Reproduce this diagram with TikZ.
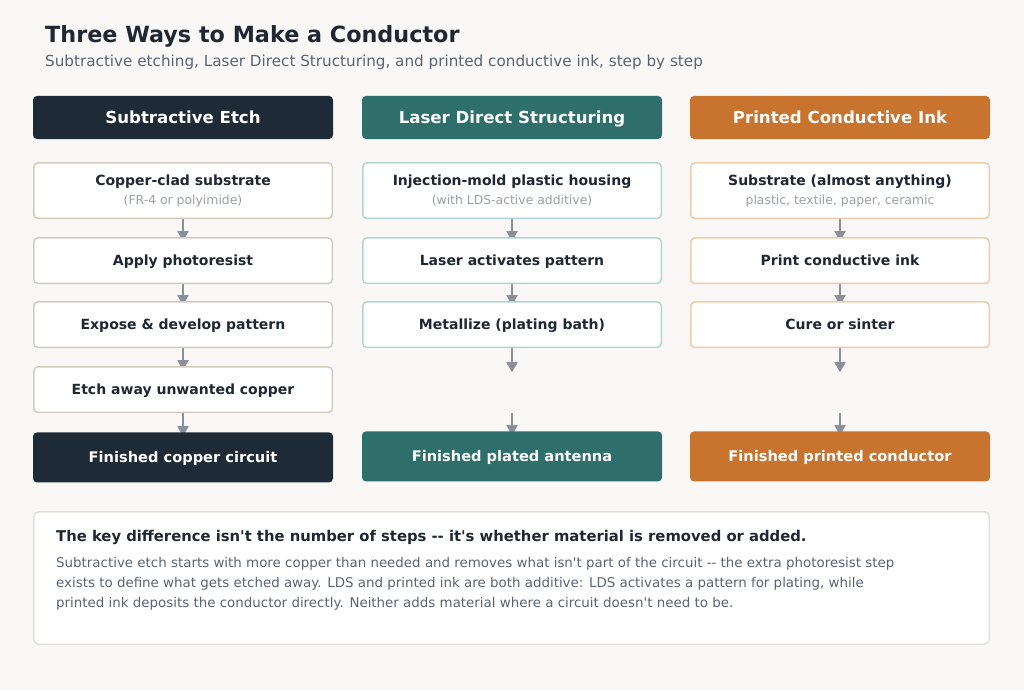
\documentclass[tikz,border=0pt]{standalone}
\usepackage{fontspec}
\setmainfont{DejaVu Sans}[Ligatures=TeXOff]
\usetikzlibrary{positioning,arrows.meta}

\definecolor{pagecol}{HTML}{F9F8F6}
\definecolor{inkcol}{HTML}{1F2733}
\definecolor{greycol}{HTML}{5A6474}
\definecolor{notecol}{HTML}{9AA0A8}
\definecolor{etchcol}{HTML}{1F2A37}
\definecolor{ldscol}{HTML}{2E6E6B}
\definecolor{printcol}{HTML}{C8732E}
\definecolor{etchline}{HTML}{D3CCBD}
\definecolor{ldsline}{HTML}{B3D3D3}
\definecolor{printline}{HTML}{F0CCA8}
\definecolor{arrowcol}{HTML}{8A8F99}
\definecolor{cardline}{HTML}{E2DFD8}

\newcommand{\notetext}[1]{{\mdseries\fontsize{12.4}{15}\selectfont\color{notecol}#1}}

\pgfdeclarelayer{bg}
\pgfdeclarelayer{arrowlayer}
\pgfsetlayers{bg,arrowlayer,main}

\begin{document}
\begin{tikzpicture}[x=1pt,y=-1pt,
	node distance=18pt,
	head/.style={rounded corners=4pt,minimum width=300pt,minimum height=43pt,inner sep=0pt,
		text height=13pt,text depth=1pt,
		text=white,font=\bfseries\fontsize{16.6}{19}\selectfont},
	done/.style={head,minimum height=50pt,text height=11.5pt,
		font=\bfseries\fontsize{14.6}{18}\selectfont},
	stepbox/.style={draw,line width=1.5pt,fill=white,rounded corners=4pt,
		minimum width=298.5pt,minimum height=45.5pt,inner sep=0pt,align=center,
		text height=11pt,text depth=0.5pt,
		text=inkcol,font=\bfseries\fontsize{14}{17}\selectfont},
	firstbox/.style={stepbox,minimum height=55.5pt,text height={},text depth={}},
	flow/.style={draw=arrowcol,line width=1.8pt,shorten >=-4pt,
		-{Triangle[length=10pt,width=11pt]}}]

\begin{pgfonlayer}{bg}
\fill[pagecol] (0,0) rectangle (1024,690);
\end{pgfonlayer}

% Title
\node[anchor=base west,inner sep=0pt,text=inkcol,font=\bfseries\fontsize{22.3}{26}\selectfont]
	(title) at (45,43) {Three Ways to Make a Conductor};
\node[anchor=base west,inner sep=0pt,text=greycol,font=\fontsize{15.2}{18}\selectfont]
	(subtitle) at (45,66.5) {Subtractive etching, Laser Direct Structuring, and printed conductive ink, step by step};

% Subtractive etch
\node[head,fill=etchcol] (h1) at (183,117.5) {Subtractive Etch};
\node[firstbox,draw=etchline,below=23pt of h1] (s11)
	{Copper-clad substrate\\[2pt]\notetext{(FR-4 or polyimide)}};
\node[stepbox,draw=etchline,below=of s11] (s12) {Apply photoresist};
\node[stepbox,draw=etchline,below=17pt of s12] (s13) {Expose \& develop pattern};
\node[stepbox,draw=etchline,below=of s13] (s14) {Etch away unwanted copper};
\node[done,fill=etchcol,below=19pt of s14] (f1) {Finished copper circuit};

% Laser direct structuring
\node[head,fill=ldscol] (h2) at (512,117.5) {Laser Direct Structuring};
\node[firstbox,draw=ldsline,below=23pt of h2] (s21)
	{Injection-mold plastic housing\\[2pt]\notetext{(with LDS-active additive)}};
\node[stepbox,draw=ldsline,below=of s21] (s22) {Laser activates pattern};
\node[stepbox,draw=ldsline,below=17pt of s22] (s23) {Metallize (plating bath)};
\node[done,fill=ldscol,below=83pt of s23] (f2) {Finished plated antenna};

% Printed ink
\node[head,fill=printcol] (h3) at (840,117.5) {Printed Conductive Ink};
\node[firstbox,draw=printline,below=23pt of h3] (s31)
	{Substrate (almost anything)\\[2pt]\notetext{plastic, textile, paper, ceramic}};
\node[stepbox,draw=printline,below=of s31] (s32) {Print conductive ink};
\node[stepbox,draw=printline,below=17pt of s32] (s33) {Cure or sinter};
\node[done,fill=printcol,below=83pt of s33] (f3) {Finished printed conductor};

% open ends
\coordinate[below=24pt of s23] (g2a);
\coordinate[above=18pt of f2] (g2b);
\coordinate[below=24pt of s33] (g3a);
\coordinate[above=18pt of f3] (g3b);

% Arrows
\begin{pgfonlayer}{arrowlayer}
\draw[flow] (s11) -- (s12);
\draw[flow] (s12) -- (s13);
\draw[flow] (s13) -- (s14);
\draw[flow] (s14) -- (f1);
\draw[flow] (s21) -- (s22);
\draw[flow] (s22) -- (s23);
\draw[flow,shorten >=0pt] (s23) -- (g2a);
\draw[flow] (g2b) -- (f2);
\draw[flow] (s31) -- (s32);
\draw[flow] (s32) -- (s33);
\draw[flow,shorten >=0pt] (s33) -- (g3a);
\draw[flow] (g3b) -- (f3);
\end{pgfonlayer}

% Summary card
\node[draw=cardline,line width=1.5pt,fill=white,rounded corners=5pt,minimum width=955.5pt,
	minimum height=132.5pt,inner sep=0pt] (card) at (511.5,578) {};
\node[anchor=base west,inner sep=0pt,text=inkcol,font=\bfseries\fontsize{14.8}{18}\selectfont]
	(keyline) at (56,541) {The key difference isn't the number of steps -{}- it's whether material is removed or added.};
\node[anchor=north west,inner sep=0pt,align=left,text=greycol,font=\fontsize{13.4}{20}\selectfont]
	(body) at (56,557.5) {Subtractive etch starts with more copper than needed and removes what isn't part of the circuit -{}- the extra photoresist step\\
	exists to define what gets etched away. LDS and printed ink are both additive: LDS activates a pattern for plating, while\\
	printed ink deposits the conductor directly. Neither adds material where a circuit doesn't need to be.};

\end{tikzpicture}
\end{document}
